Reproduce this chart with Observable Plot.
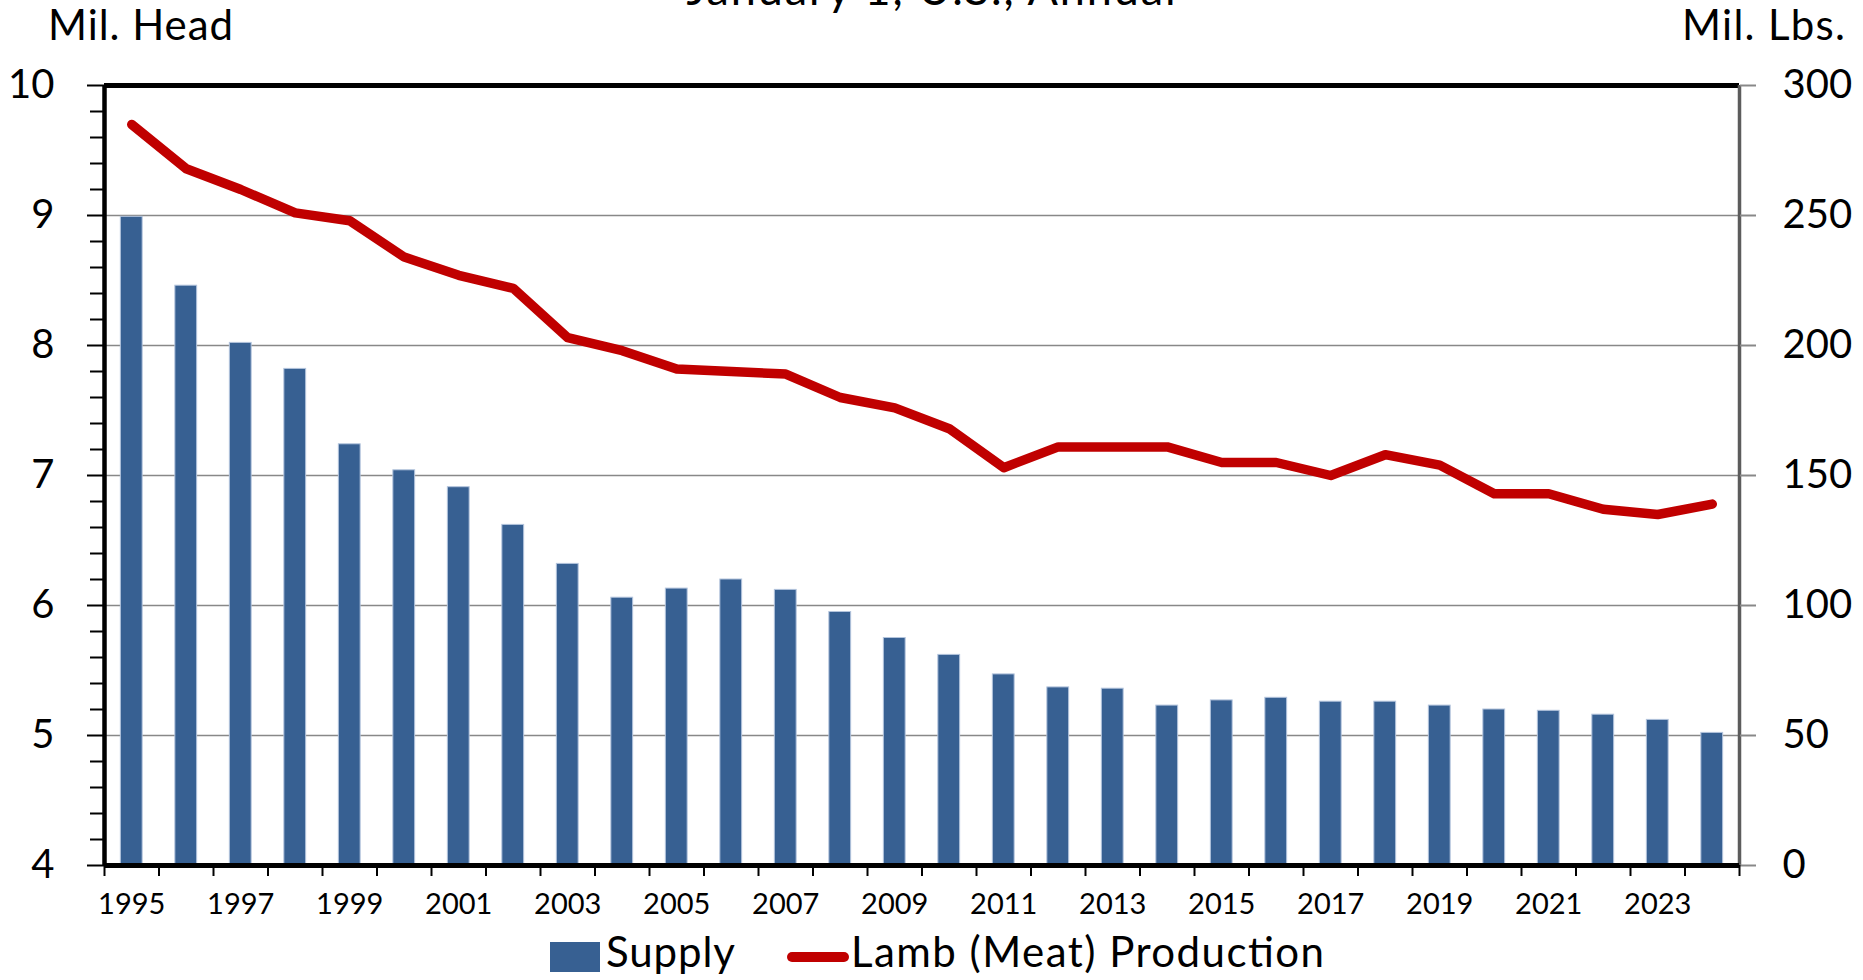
<!DOCTYPE html>
<html><head><meta charset="utf-8">
<script src="https://cdn.jsdelivr.net/npm/d3@7"></script>
<script src="https://cdn.jsdelivr.net/npm/@observablehq/plot@0.6"></script>
<style>
body{margin:0;background:#fff;}
#wrap{position:relative;width:1863px;height:980px;overflow:hidden;font-family:Lato,sans-serif;}
#wrap svg{display:block;font-family:Lato,sans-serif;}
</style></head><body><div id="wrap"></div>
<script>
// ---- data ----
const years = [1995,1996,1997,1998,1999,2000,2001,2002,2003,2004,2005,2006,2007,2008,2009,2010,2011,2012,2013,2014,2015,2016,2017,2018,2019,2020,2021,2022,2023,2024];
const supply = [8.99,8.46,8.02,7.82,7.24,7.04,6.91,6.62,6.32,6.06,6.13,6.20,6.12,5.95,5.75,5.62,5.47,5.37,5.36,5.23,5.27,5.29,5.26,5.26,5.23,5.20,5.19,5.16,5.12,5.02];
const lambProduction = [285,268,260,251,248,234,227,222,203,198,191,190,189,180,176,168,153,161,161,161,155,155,150,158,154,143,143,137,135,139];
const leftTicks = [4,5,6,7,8,9,10];
const rightTickLabels = [0,50,100,150,200,250,300];
const labelYears = [1995,1997,1999,2001,2003,2005,2007,2009,2011,2013,2015,2017,2019,2021,2023];
const titleText = "January 1, U.S., Annual";
const leftUnit = "Mil. Head";
const rightUnit = "Mil. Lbs.";
const seriesNames = ["Supply", "Lamb (Meat) Production"];

const rows = years.map((year, i) => ({year, supply: supply[i], lamb: lambProduction[i]}));
const xDomain = [years[0] - 0.5, years[years.length - 1] + 0.5];
const boundaries = years.map(y => y - 0.5).concat([xDomain[1]]);
const minorTicks = d3.range(40, 101, 2).map(v => v / 10).filter(v => !leftTicks.includes(v));
const lbsToHead = v => 4 + v / 50;

const wrap = document.getElementById("wrap");
const NS = "http://www.w3.org/2000/svg";
function svgEl(tag, attrs, text) {
  const e = document.createElementNS(NS, tag);
  for (const k in attrs) e.setAttribute(k, attrs[k]);
  if (text != null) e.textContent = text;
  return e;
}

// ---- header (title + unit labels) ----
const header = svgEl("svg", {width: 1863, height: 50, viewBox: "0 0 1863 50", style: "overflow:visible"});
header.appendChild(svgEl("text", {x: 931, y: 5, "text-anchor": "middle", "font-size": 45, textLength: 489, lengthAdjust: "spacing", fill: "#000"}, titleText));
header.appendChild(svgEl("text", {x: 48, y: 40, "font-size": 42, textLength: 185, lengthAdjust: "spacing", fill: "#000"}, leftUnit));
header.appendChild(svgEl("text", {x: 1845, y: 40, "text-anchor": "end", "font-size": 42, textLength: 163, lengthAdjust: "spacing", fill: "#000"}, rightUnit));
wrap.appendChild(header);

// ---- chart ----
const chart = Plot.plot({
  width: 1863,
  height: 880,
  marginTop: 35,
  marginBottom: 65,
  marginLeft: 104,
  marginRight: 124,
  style: {fontFamily: "Lato, sans-serif", background: "#fff", overflow: "visible"},
  x: {type: "linear", domain: xDomain, label: null},
  y: {domain: [4, 10], label: null},
  marks: [
    Plot.ruleY([5, 6, 7, 8, 9], {stroke: "#888", strokeWidth: 1.6}),
    Plot.rectY(rows, {x1: d => d.year - 0.2, x2: d => d.year + 0.2, y1: 4, y2: "supply", fill: "#376092", stroke: "#b3c4dc", strokeWidth: 1}),
    Plot.line(rows, {x: "year", y: d => lbsToHead(d.lamb), stroke: "#C00000", strokeWidth: 9.5, strokeLinecap: "round", strokeLinejoin: "round"}),
    Plot.ruleY([10], {stroke: "#000", strokeWidth: 5}),
    Plot.ruleX([xDomain[1]], {stroke: "#5c5c5c", strokeWidth: 3.5}),
    Plot.ruleX([xDomain[0]], {stroke: "#000", strokeWidth: 4.5}),
    Plot.ruleY([4], {stroke: "#000", strokeWidth: 5}),
    Plot.axisY({anchor: "left", ticks: leftTicks, tickSize: 17, tickPadding: 33, fontSize: 40, strokeWidth: 2, label: null, tickFormat: d => String(d)}),
    Plot.axisY({anchor: "left", ticks: minorTicks, tickSize: 14, strokeWidth: 2, text: null, label: null}),
    Plot.axisY({anchor: "right", ticks: leftTicks, tickSize: 16, tickPadding: 27, fontSize: 40, stroke: "#888", strokeWidth: 2, fill: "#000", label: null,
      tickFormat: d => String(rightTickLabels[leftTicks.indexOf(d)])}),
    Plot.axisX({ticks: boundaries, tickSize: 11, strokeWidth: 2, text: null, label: null}),
    Plot.axisX({ticks: labelYears, tickSize: 0, tickPadding: 28, fontSize: 29, label: null, tickFormat: d => String(d)})
  ]
});
wrap.appendChild(chart);

// ---- legend ----
const legend = svgEl("svg", {width: 1863, height: 50, viewBox: "0 0 1863 50"});
legend.appendChild(svgEl("rect", {x: 550, y: 12, width: 50, height: 30, fill: "#376092"}));
legend.appendChild(svgEl("text", {x: 606, y: 37, "font-size": 42, textLength: 129, lengthAdjust: "spacing", fill: "#000"}, seriesNames[0]));
legend.appendChild(svgEl("line", {x1: 792, x2: 844, y1: 27, y2: 27, stroke: "#C00000", "stroke-width": 10, "stroke-linecap": "round"}));
legend.appendChild(svgEl("text", {x: 851, y: 37, "font-size": 42, textLength: 473, lengthAdjust: "spacing", fill: "#000"}, seriesNames[1]));
wrap.appendChild(legend);
</script></body></html>
